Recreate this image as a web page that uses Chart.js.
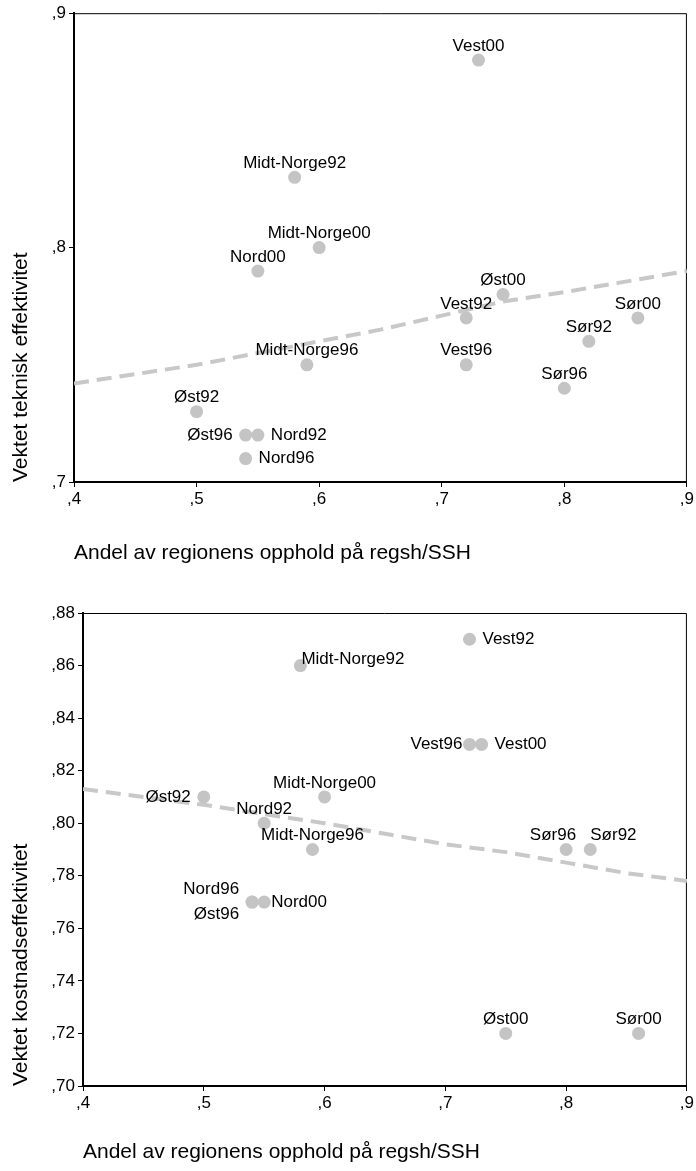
<!DOCTYPE html>
<html>
<head>
<meta charset="utf-8">
<script src="https://cdn.jsdelivr.net/npm/chart.js@4.4.1/dist/chart.umd.min.js"></script>
<style>
    body { margin: 0; background: #fff; }
    .box { position: absolute; left: 0; }
</style>
</head>
<body>
<div class="box" style="top:0"><canvas id="tech-chart" width="696" height="570"></canvas></div>
<div class="box" style="top:570px"><canvas id="cost-chart" width="696" height="601"></canvas></div>
<script>
// Top chart: technical efficiency
const techNames = ['Vest00', 'Midt-Norge92', 'Midt-Norge00', 'Nord00', 'Øst00', 'Vest92', 'Sør00', 'Sør92',
    'Midt-Norge96', 'Vest96', 'Sør96', 'Øst92', 'Øst96', 'Nord92', 'Nord96'];
const techShare = [0.73, 0.58, 0.60, 0.55, 0.75, 0.72, 0.86, 0.82, 0.59, 0.72, 0.80, 0.50, 0.54, 0.55, 0.54];
const techEff = [0.88, 0.83, 0.80, 0.79, 0.78, 0.77, 0.77, 0.76, 0.75, 0.75, 0.74, 0.73, 0.72, 0.72, 0.71];
const techPlace = ['top', 'top', 'top', 'top', 'top', 'top', 'top', 'top',
    'top', 'top', 'top', 'top', 'left', 'right', 'right'];
const techTrendX = [0.4, 0.5, 0.6, 0.65, 0.7, 0.75, 0.8, 0.9];
const techTrendY = [0.742, 0.750, 0.760, 0.765, 0.771, 0.777, 0.781, 0.790];

// Bottom chart: cost efficiency
const costNames = ['Vest92', 'Midt-Norge92', 'Vest96', 'Vest00', 'Midt-Norge00', 'Øst92', 'Nord92', 'Midt-Norge96',
    'Sør96', 'Sør92', 'Nord96', 'Øst96', 'Nord00', 'Øst00', 'Sør00'];
const costShare = [0.72, 0.58, 0.72, 0.73, 0.60, 0.50, 0.55, 0.59, 0.80, 0.82, 0.54, 0.54, 0.55, 0.75, 0.86];
const costEff = [0.87, 0.86, 0.83, 0.83, 0.81, 0.81, 0.80, 0.79, 0.79, 0.79, 0.77, 0.77, 0.77, 0.72, 0.72];
const costPlace = ['right', 'upRight', 'nearLeft', 'right', 'top', 'left', 'top', 'top',
    'topLeft', 'topRight', 'upLeft', 'downLeft', 'nearRight', 'top', 'top'];
const costTrendX = [0.4, 0.5, 0.6, 0.65, 0.7, 0.75, 0.8, 0.85, 0.9];
const costTrendY = [0.813, 0.807, 0.800, 0.796, 0.792, 0.789, 0.785, 0.781, 0.778];

const xTitle = 'Andel av regionens opphold på regsh/SSH';
const FONT = "Arial, 'Liberation Sans', sans-serif";

Chart.defaults.font.family = FONT;
Chart.defaults.color = '#000';

// where each label sits relative to its point
const placements = {
    top:       { dx: 0,   dy: -14, align: 'center' },
    left:      { dx: -13, dy: 0,   align: 'right' },
    right:     { dx: 13,  dy: 0,   align: 'left' },
    nearLeft:  { dx: -7,  dy: 0,   align: 'right' },
    nearRight: { dx: 7,   dy: 0,   align: 'left' },
    upLeft:    { dx: -13, dy: -13, align: 'right' },
    downLeft:  { dx: -13, dy: 12,  align: 'right' },
    upRight:   { dx: 1,   dy: -6,  align: 'left' },
    topLeft:   { dx: 10,  dy: -14, align: 'right' },
    topRight:  { dx: 0,   dy: -14, align: 'left' }
};

const pointLabels = {
    id: 'pointLabels',
    afterDatasetsDraw(chart, args, opts) {
        const ctx = chart.ctx;
        const meta = chart.getDatasetMeta(0);
        ctx.save();
        ctx.font = '17px ' + FONT;
        ctx.fillStyle = '#000';
        ctx.textBaseline = 'middle';
        meta.data.forEach((pt, i) => {
            const p = placements[opts.place[i]];
            ctx.textAlign = p.align;
            ctx.fillText(opts.names[i], pt.x + p.dx, pt.y + p.dy);
        });
        ctx.restore();
    }
};

// thin top and right frame lines
const frame = {
    id: 'frame',
    beforeDatasetsDraw(chart) {
        const { ctx, chartArea: a } = chart;
        ctx.save();
        ctx.strokeStyle = '#000';
        ctx.lineWidth = 1;
        ctx.beginPath();
        ctx.moveTo(a.left, a.top + 0.5);
        ctx.lineTo(a.right - 0.5, a.top + 0.5);
        ctx.lineTo(a.right - 0.5, a.bottom);
        ctx.stroke();
        ctx.restore();
    }
};

function fmt(dec) {
    return v => v.toFixed(dec).replace(/^0\./, ',');
}

function makeChart(id, cfg) {
    const points = cfg.xs.map((x, i) => ({ x: x, y: cfg.ys[i] }));
    const trend = cfg.tx.map((x, i) => ({ x: x, y: cfg.ty[i] }));
    return new Chart(document.getElementById(id).getContext('2d'), {
        type: 'scatter',
        data: {
            datasets: [{
                data: points,
                pointRadius: 6.5,
                pointBackgroundColor: '#c4c4c4',
                pointBorderWidth: 0
            }, {
                data: trend,
                showLine: true,
                borderColor: '#c8c8c8',
                borderWidth: 4,
                borderDash: [15, 8],
                pointRadius: 0,
                tension: 0
            }]
        },
        options: {
            responsive: false,
            animation: false,
            layout: { padding: { top: cfg.padTop, right: 7, left: 0, bottom: 0 } },
            plugins: {
                legend: { display: false },
                tooltip: { enabled: false },
                pointLabels: { names: cfg.names, place: cfg.place }
            },
            scales: {
                x: {
                    type: 'linear',
                    min: 0.4,
                    max: 0.9,
                    afterFit: s => { s.height = cfg.xHeight; },
                    ticks: { stepSize: 0.1, callback: fmt(1), font: { size: 17 }, padding: 2, maxRotation: 0 },
                    grid: { drawOnChartArea: false, tickLength: 5, color: '#000' },
                    border: { color: '#000', width: 2 },
                    title: { display: true, text: xTitle, align: 'start', font: { size: 21 }, padding: { top: 0, bottom: cfg.titlePad } }
                },
                y: {
                    min: cfg.yMin,
                    max: cfg.yMax,
                    afterFit: s => { s.width = cfg.yWidth; },
                    ticks: { stepSize: cfg.yStep, callback: fmt(cfg.yDec), font: { size: 17 }, padding: 3 },
                    grid: { drawOnChartArea: false, tickLength: 5, color: '#000' },
                    border: { color: '#000', width: 2 },
                    title: { display: true, text: cfg.yTitle, align: 'start', font: { size: 21 }, padding: { top: 9, bottom: 0 } }
                }
            }
        },
        plugins: [frame, pointLabels]
    });
}

makeChart('tech-chart', {
    xs: techShare, ys: techEff, tx: techTrendX, ty: techTrendY,
    names: techNames, place: techPlace,
    yMin: 0.7, yMax: 0.9, yStep: 0.1, yDec: 1,
    yTitle: 'Vektet teknisk effektivitet',
    padTop: 11, xHeight: 88, yWidth: 74, titlePad: 4
});

makeChart('cost-chart', {
    xs: costShare, ys: costEff, tx: costTrendX, ty: costTrendY,
    names: costNames, place: costPlace,
    yMin: 0.70, yMax: 0.88, yStep: 0.02, yDec: 2,
    yTitle: 'Vektet kostnadseffektivitet',
    padTop: 43, xHeight: 85, yWidth: 83, titlePad: 6
});
</script>
</body>
</html>
